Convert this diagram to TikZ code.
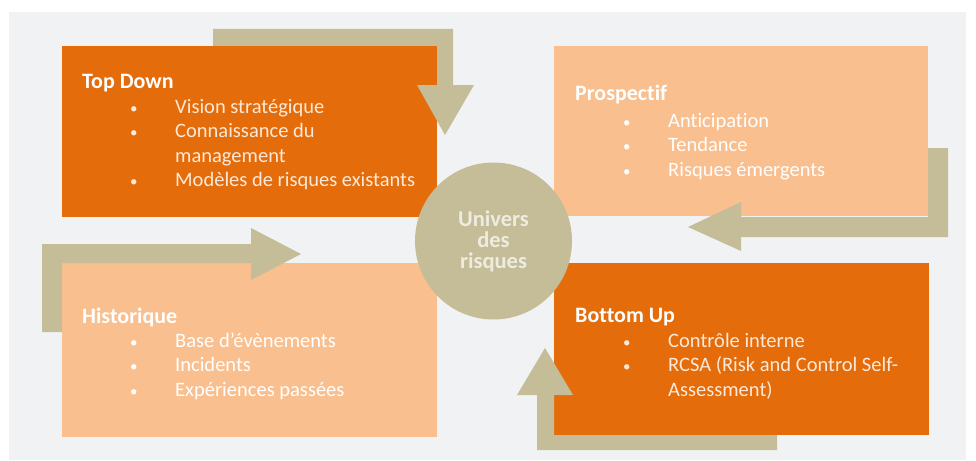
\documentclass[tikz,border=0pt]{standalone}
\usepackage{fontspec}
\setmainfont{Carlito}[Ligatures={NoCommon}]
\usepackage{xcolor}
\usetikzlibrary{calc,positioning}

\definecolor{darkorange}{HTML}{E46C0A}
\definecolor{lightorange}{HTML}{F9BF8F}
\definecolor{tan}{HTML}{C4BD97}
\definecolor{panel}{HTML}{F1F2F4}
\definecolor{cream}{HTML}{FDE9D9}
\definecolor{circtext}{HTML}{EEECE1}

\newcommand{\puce}{\makebox[45pt][l]{\fontsize{15}{15}\selectfont\textbullet}}

\begin{document}
\begin{tikzpicture}[
    % GLOBAL CFG
    x=1pt, y=-1pt,
    % Styles
    darkbox/.style={% For the dark orange boxes
        rectangle,
        fill=darkorange,
        anchor=north west,
        inner sep=0pt,
        minimum width=375pt,
        minimum height=171pt,
        },
    lightbox/.style={% For the light orange boxes
        darkbox,
        fill=lightorange,
        },
    boxtitle/.style={% Box headings
        anchor=base west,
        inner sep=0pt,
        text=white,
        font=\fontsize{22}{26}\selectfont\bfseries,
        },
    boxitems/.style={% Bullet lists
        anchor=base west,
        inner sep=0pt,
        font=\fontsize{20.5}{24.5}\selectfont,
        },
    univers/.style={% The central circle
        circle,
        fill=tan,
        minimum size=157pt,
        inner sep=0pt,
        align=center,
        text=circtext,
        font=\fontsize{22.5}{21}\selectfont\bfseries,
        },
    blockarrow/.style={% Bent arrows
        fill=tan,
        },
    ]

%Start drawing the thing...
    % Background
    \fill[white] (0,0) rectangle (976,460);
    \fill[panel] (9,12) rectangle (966,460);
    \useasboundingbox (0,0) rectangle (976,460);

    % Draw the boxes:
    \node [darkbox] (topdown) at (62,46) {};
    \node [lightbox, minimum width=374pt, minimum height=170pt] (prospectif) at (554,46) {};
    \node [lightbox, minimum height=174pt] (historique) at (62,263) {};
    \node [darkbox, minimum height=172pt] (bottomup) at (554,263) {};

    % Arrows round the boxes
    \fill [blockarrow] (213,29) -- (453,29) -- (453,85) -- (474,85) -- (445,135)
        -- (417,85) -- (437,85) -- (437,46) -- (213,46) -- cycle;
    \fill [blockarrow] (928,148) -- (948,148) -- (948,237) -- (741,237) -- (741,251)
        -- (688,227) -- (741,202) -- (741,217) -- (928,217) -- cycle;
    \fill [blockarrow] (42,332) -- (42,244) -- (251,244) -- (251,228) -- (301,254)
        -- (251,280) -- (251,263) -- (62,263) -- (62,332) -- cycle;
    \fill [blockarrow] (777,435) -- (777,450) -- (537,450) -- (537,395) -- (517,395)
        -- (545,348) -- (573,395) -- (554,395) -- (554,435) -- cycle;

    % Texts
    \node [boxtitle] (tdtitle) at (82,88) {Top Down};
    \node [boxitems, text=cream] (tditems) at (130,113) {\begin{tabular}[t]{@{}l@{}}
        \puce Vision stratégique\\
        \puce Connaissance du\\
        \hspace*{45pt}management\\
        \puce Modèles de risques existants
        \end{tabular}};

    \node [boxtitle] (prtitle) at (575,100) {Prospectif};
    \node [boxitems, text=white] (pritems) at (623,127) {\begin{tabular}[t]{@{}l@{}}
        \puce Anticipation\\
        \puce Tendance\\
        \puce Risques émergents
        \end{tabular}};

    \node [boxtitle] (hititle) at (82,323) {Historique};
    \node [boxitems, text=white] (hiitems) at (130,347) {\begin{tabular}[t]{@{}l@{}}
        \puce Base d’évènements\\
        \puce Incidents\\
        \puce Expériences passées
        \end{tabular}};

    \node [boxtitle] (butitle) at (575,322) {Bottom Up};
    \node [boxitems, text=cream] (buitems) at (623,347) {\begin{tabular}[t]{@{}l@{}}
        \puce Contrôle interne\\
        \puce RCSA (Risk and Control Self-\\
        \hspace*{45pt}Assessment)
        \end{tabular}};

    % Centre
    \node [univers] (centre) at (493.5,241) {Univers\\des\\risques};
\end{tikzpicture}
\end{document}
